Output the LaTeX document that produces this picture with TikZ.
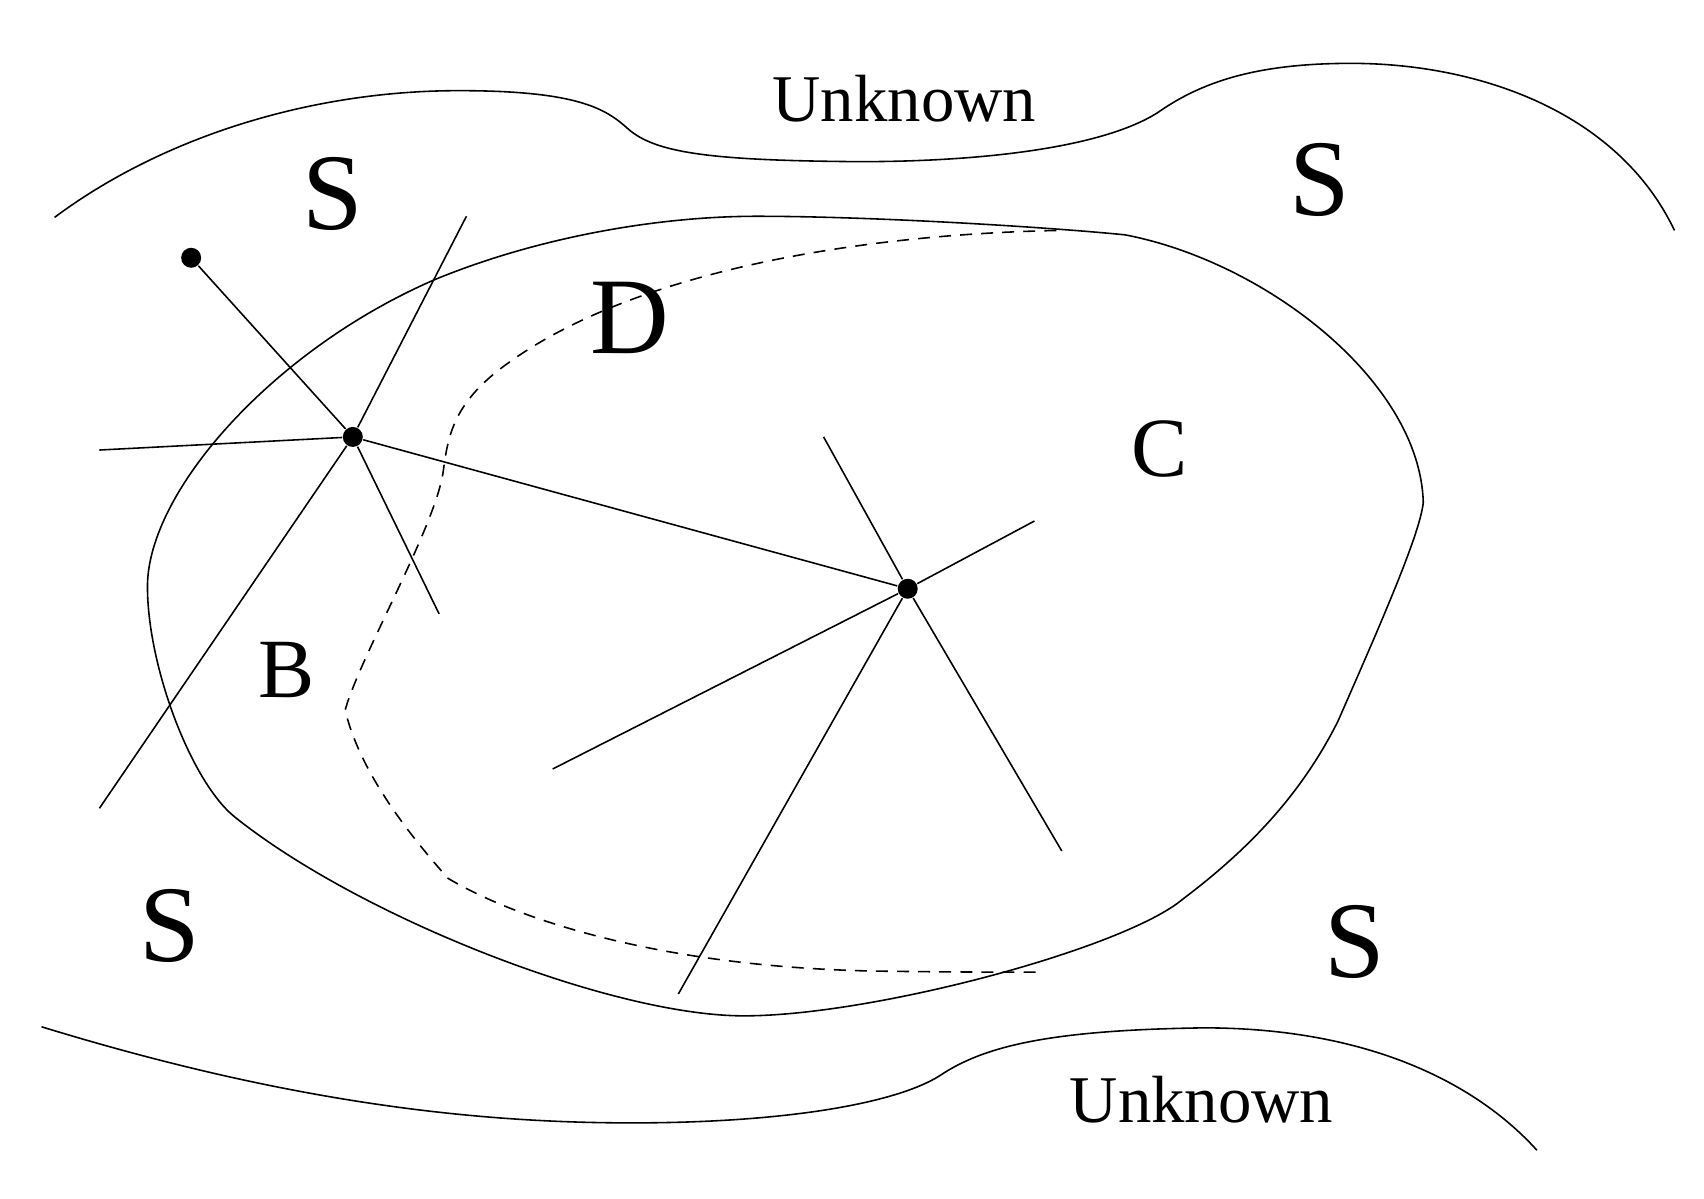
\documentclass[tikz,border=0pt]{standalone}
\usepackage{fontspec}
\setmainfont{Liberation Serif}
\begin{document}
\begin{tikzpicture}[x=0.010923cm, y=-0.010923cm, line width=0.45pt,
		site/.style={circle, fill, inner sep=0pt, minimum size=0.2cm},
		big/.style={inner sep=0pt, font=\fontsize{31}{31}\selectfont},
		mid/.style={inner sep=0pt, font=\fontsize{24}{24}\selectfont},
		unk/.style={inner sep=0pt, font=\fontsize{19}{19}\selectfont},
		front/.style={dash pattern=on 3.4pt off 2.6pt}]
		\useasboundingbox (0,0) rectangle (1560,1097);
		
		%unknown borders
		\draw (50,199) .. controls (145,128) and (280,83) .. (420,83)
			.. controls (530,83) and (555,100) .. (575,118)
			.. controls (600,140) and (650,147) .. (787,148)
			.. controls (900,148) and (1010,135) .. (1060,103)
			.. controls (1100,75) and (1150,58) .. (1237,58)
			.. controls (1350,58) and (1480,100) .. (1533,211);
		\draw (38,940) .. controls (250,1005) and (420,1028) .. (578,1028)
			.. controls (720,1028) and (820,1010) .. (860,985)
			.. controls (900,958) and (960,943) .. (1102,941)
			.. controls (1250,941) and (1350,990) .. (1407,1053);
		
		%closed region
		\draw (693,198) .. controls (800,198) and (960,208) .. (1030,215)
			.. controls (1160,240) and (1300,350) .. (1303,460)
			.. controls (1300,490) and (1260,580) .. (1225,660)
			.. controls (1190,730) and (1140,780) .. (1083,823)
			.. controls (1030,868) and (800,930) .. (681,930)
			.. controls (560,930) and (330,840) .. (215,748)
			.. controls (175,716) and (135,610) .. (135,537)
			.. controls (135,450) and (250,320) .. (398,256)
			.. controls (490,218) and (600,198) .. (693,198) -- cycle;
		
		%front
		\draw[front] (967,211) .. controls (780,215) and (570,250) .. (455,340)
			.. controls (415,372) and (410,400) .. (406,430)
			.. controls (400,480) and (330,600) .. (316,650)
			.. controls (330,710) and (380,770) .. (410,804)
			.. controls (470,840) and (600,885) .. (800,889)
			.. controls (870,890) and (920,890) .. (955,890);
		
		%sites
		\node[site] (pa) at (175,236) {};
		\node[site] (pb) at (323,400) {};
		\node[site] (pc) at (831,539) {};
		
		\coordinate (b1) at (427,198);
		\coordinate (b2) at (91,740);
		\coordinate (b3) at (91,412);
		\coordinate (b4) at (402,562);
		\coordinate (c1) at (754,400);
		\coordinate (c2) at (947,477);
		\coordinate (c3) at (506,704);
		\coordinate (c4) at (621,910);
		\coordinate (c5) at (972,779);
		
		\draw (pa) -- (pb);
		\draw (pb) -- (pc);
		\foreach \e in {b1, b2, b3, b4}{
			\draw (pb) -- (\e);
		}
		\foreach \e in {c1, c2, c3, c4, c5}{
			\draw (pc) -- (\e);
		}
		
		%labels
		\node[unk] (u1) at (828,90) {Unknown};
		\node[unk] (u2) at (1100,1007) {Unknown};
		\node[big] (s1) at (305,178) {S};
		\node[big] (s2) at (1208,165) {S};
		\node[big] (s3) at (155,848) {S};
		\node[big] (s4) at (1240,862) {S};
		\node[big] (d) at (577,291) {D};
		\node[mid] (c) at (1062,411) {C};
		\node[mid] (b) at (262,613) {B};
\end{tikzpicture}
\end{document}
